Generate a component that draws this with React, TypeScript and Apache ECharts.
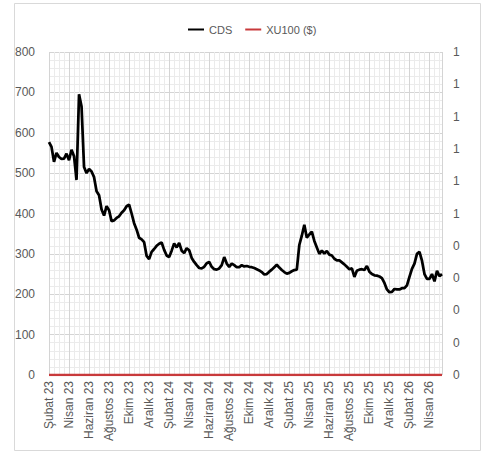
import React, { useEffect, useRef } from "react";
import * as echarts from "echarts";

const monthLabels = [
  "Şubat 23", "Nisan 23", "Haziran 23", "Ağustos 23", "Ekim 23", "Aralık 23",
  "Şubat 24", "Nisan 24", "Haziran 24", "Ağustos 24", "Ekim 24", "Aralık 24",
  "Şubat 25", "Nisan 25", "Haziran 25", "Ağustos 25", "Ekim 25", "Aralık 25",
  "Şubat 26", "Nisan 26",
];

// weekly CDS readings (4 per month), Feb 2023 -> mid May 2026
const cds = [
  577, 565, 528, 550, 540, 535, 536, 548, 532, 558, 542, 483, 695, 665, 515, 500,
  510, 504, 490, 455, 445, 410, 395, 418, 408, 381, 383, 389, 393, 402, 408, 418,
  422, 400, 376, 360, 340, 336, 329, 295, 287, 305, 312, 320, 325, 328, 310, 296,
  292, 308, 326, 316, 327, 308, 302, 314, 309, 290, 280, 272, 265, 264, 268, 277,
  280, 268, 262, 261, 264, 272, 292, 276, 268, 276, 272, 267, 267, 272, 269, 270,
  268, 267, 265, 262, 259, 255, 249, 250, 256, 261, 267, 273, 266, 260, 255, 251,
  253, 257, 260, 261, 322, 345, 372, 340, 348, 355, 332, 316, 300, 308, 301, 307,
  298, 296, 288, 284, 284, 279, 274, 268, 262, 264, 243, 258, 261, 262, 260, 270,
  256, 250, 247, 246, 244, 240, 228, 212, 205, 206, 213, 212, 212, 215, 215, 222,
  243, 263, 276, 300, 305, 283, 250, 238, 238, 250, 232, 258, 245, 250,
];

const xu100 = [
  0, 0, 0, 0, 0, 0, 0, 0, 0, 0, 0, 0, 0, 0, 0, 0, 0, 0, 0, 0, 0, 0, 0, 0, 0, 0, 0, 0, 0, 0, 0, 0,
  0, 0, 0, 0, 0, 0, 0, 0, 0, 0, 0, 0, 0, 0, 0, 0, 0, 0, 0, 0, 0, 0, 0, 0, 0, 0, 0, 0, 0, 0, 0, 0,
  0, 0, 0, 0, 0, 0, 0, 0, 0, 0, 0, 0, 0, 0, 0, 0, 0, 0, 0, 0, 0, 0, 0, 0, 0, 0, 0, 0, 0, 0, 0, 0,
  0, 0, 0, 0, 0, 0, 0, 0, 0, 0, 0, 0, 0, 0, 0, 0, 0, 0, 0, 0, 0, 0, 0, 0, 0, 0, 0, 0, 0, 0, 0, 0,
  0, 0, 0, 0, 0, 0, 0, 0, 0, 0, 0, 0, 0, 0, 0, 0, 0, 0, 0, 0, 0, 0, 0, 0, 0, 0, 0, 0, 0, 0,
];

const weeks = cds.map((_, i) => "w" + i);

const FONT = "Liberation Sans";
const GRAY = "#595959";

export default function App() {
  const ref = useRef<HTMLDivElement>(null);
  useEffect(() => {
    if (!ref.current) return;
    const chart = echarts.init(ref.current, undefined, { renderer: "svg" });
    const last = cds.length - 1;
    chart.setOption({
      animation: false,
      backgroundColor: "#ffffff",
      textStyle: { fontFamily: FONT },
      graphic: [
        {
          type: "rect",
          shape: { x: 14.5, y: 3.5, width: 466, height: 447 },
          style: { fill: "none", stroke: "#d9d9d9", lineWidth: 1 },
          silent: true,
        },
      ],
      legend: {
        top: 19,
        left: 183,
        icon: "rect",
        itemWidth: 16,
        itemHeight: 2,
        itemGap: 13,
        textStyle: { color: GRAY, fontSize: 11, fontFamily: FONT },
        data: ["CDS", "XU100 ($)"],
      },
      grid: { left: 49, right: 45, top: 52, bottom: 79, containLabel: false },
      xAxis: [
        {
          type: "category",
          data: weeks,
          boundaryGap: false,
          axisLine: { show: false },
          axisTick: { show: false },
          axisLabel: { show: false },
          splitLine: { show: false },
        },
        {
          type: "value",
          min: 0,
          max: last,
          interval: 8,
          position: "bottom",
          axisLine: { show: false },
          axisTick: { show: false },
          axisLabel: {
            rotate: 90,
            color: GRAY,
            fontSize: 12,
            fontFamily: FONT,
            margin: 6,
            showMaxLabel: false,
            formatter: (v: number) => {
              const k = Math.round(v / 8);
              return monthLabels[k] ?? "";
            },
          },
          splitLine: { show: true, lineStyle: { color: "#d4d4d4", width: 1 } },
          minorTick: { show: false, splitNumber: 4 },
          minorSplitLine: { show: true, lineStyle: { color: "#ebebeb", width: 1 } },
        },
      ],
      yAxis: [
        {
          type: "value",
          min: 0,
          max: 800,
          interval: 100,
          axisLine: { show: false },
          axisTick: { show: false },
          axisLabel: { color: GRAY, fontSize: 12, fontFamily: FONT, margin: 14 },
          splitLine: { show: true, lineStyle: { color: "#d4d4d4", width: 1 } },
          minorTick: { show: false, splitNumber: 5 },
          minorSplitLine: { show: true, lineStyle: { color: "#ebebeb", width: 1 } },
        },
        {
          type: "value",
          min: 0,
          max: 1,
          interval: 0.1,
          position: "right",
          axisLine: { show: false },
          axisTick: { show: false },
          axisLabel: {
            color: GRAY,
            fontSize: 12,
            fontFamily: FONT,
            margin: 11,
            formatter: (v: number) => String(Math.round(v + 1e-9)),
          },
          splitLine: { show: false },
        },
      ],
      series: [
        {
          name: "CDS",
          type: "line",
          xAxisIndex: 0,
          yAxisIndex: 0,
          data: cds,
          symbol: "none",
          lineStyle: { color: "#000000", width: 2.75 },
          itemStyle: { color: "#000000" },
          z: 3,
        },
        {
          name: "XU100 ($)",
          type: "line",
          xAxisIndex: 0,
          yAxisIndex: 1,
          data: xu100,
          symbol: "none",
          lineStyle: { color: "#c8393b", width: 2.5 },
          itemStyle: { color: "#c8393b" },
          z: 4,
        },
      ],
    });
    return () => chart.dispose();
  }, []);
  return (
    <div
      ref={ref}
      style={{ position: "absolute", left: 0, top: 0, width: 487, height: 454 }}
    />
  );
}
